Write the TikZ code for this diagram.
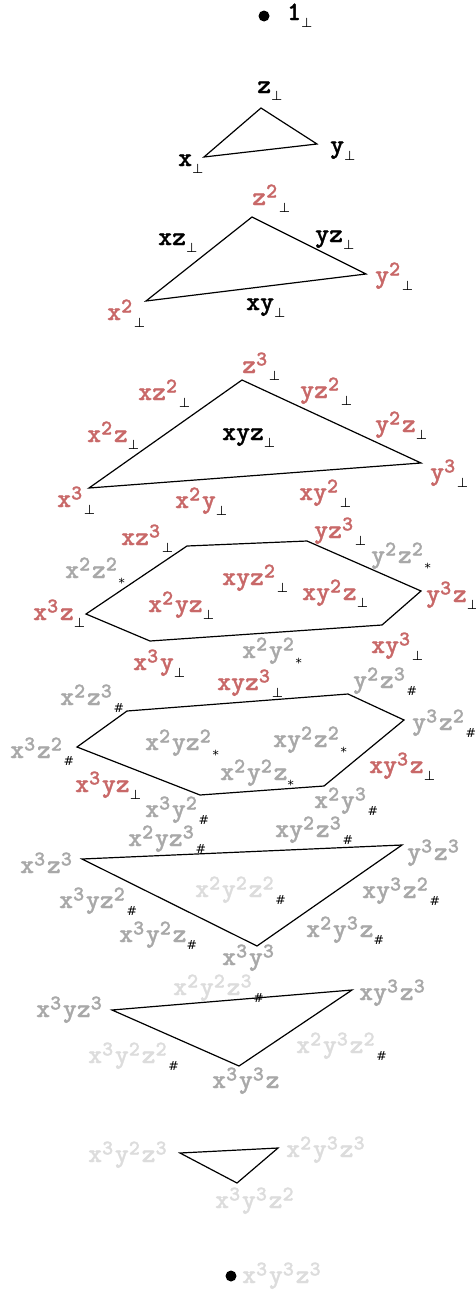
\documentclass[tikz,border=0pt]{standalone}
\usepackage{fontspec}
\newfontfamily\dvs{DejaVu Sans}
\newfontfamily\cour{lmmonolt10-bold.otf}[FakeBold=1.2]
\definecolor{rd}{RGB}{200,104,104}
\definecolor{gr}{RGB}{168,168,168}
\definecolor{lg}{RGB}{220,220,220}
\newcommand\pw[1]{\raisebox{7.5pt}{\fontsize{21}{21}\selectfont #1}\kern1.8pt}
\newcommand\bt{\textcolor{black}{\raisebox{-7pt}{\dvs\fontsize{13}{13}\selectfont ⊥}}}
\newcommand\hs{\textcolor{black}{\raisebox{-7pt}{\dvs\fontsize{12.5}{12.5}\selectfont \#}}}
\newcommand\st{\textcolor{black}{\raisebox{-9.5pt}{\dvs\fontsize{12.5}{12.5}\selectfont *}}}
\tikzset{
  lab/.style={inner sep=0pt, anchor=base west, font=\fontsize{26.5}{28}\selectfont\cour},
  kk/.style={lab,text=black},
  rr/.style={lab,text=rd},
  gg/.style={lab,text=gr},
  ll/.style={lab,text=lg},
  edge/.style={draw=black,line width=1.2pt},
  dot/.style={circle,fill=black,inner sep=0pt,minimum size=11pt}
}
\begin{document}
\begin{tikzpicture}[x=1pt,y=-1pt]
\useasboundingbox (0,0) rectangle (476,1293);
% dots
\node[dot] (top) at (264,16) {};
\node[dot] (bot) at (231,1276) {};
% polygon vertices
\coordinate (a1) at (261,108); \coordinate (a2) at (317,144); \coordinate (a3) at (204,157);
\coordinate (b1) at (252,217); \coordinate (b2) at (366,274); \coordinate (b3) at (146,301);
\coordinate (c1) at (242,380); \coordinate (c2) at (421,463); \coordinate (c3) at (89,488);
\coordinate (d1) at (187,546); \coordinate (d2) at (307,541); \coordinate (d3) at (421,591);
\coordinate (d4) at (382,625); \coordinate (d5) at (150,641); \coordinate (d6) at (86,614);
\coordinate (e1) at (127,711); \coordinate (e2) at (348,694); \coordinate (e3) at (404,720);
\coordinate (e4) at (324,786); \coordinate (e5) at (200,795); \coordinate (e6) at (77,747);
\coordinate (f1) at (82,859); \coordinate (f2) at (402,845); \coordinate (f3) at (257,946);
\coordinate (g1) at (112,1010); \coordinate (g2) at (352,990); \coordinate (g3) at (239,1066);
\coordinate (h1) at (180,1153); \coordinate (h2) at (278,1148); \coordinate (h3) at (237,1183);
\draw[edge] (a1) -- (a2) -- (a3) -- cycle;
\draw[edge] (b1) -- (b2) -- (b3) -- cycle;
\draw[edge] (c1) -- (c2) -- (c3) -- cycle;
\draw[edge] (d1) -- (d2) -- (d3) -- (d4) -- (d5) -- (d6) -- cycle;
\draw[edge] (e1) -- (e2) -- (e3) -- (e4) -- (e5) -- (e6) -- cycle;
\draw[edge] (f1) -- (f2) -- (f3) -- cycle;
\draw[edge] (g1) -- (g2) -- (g3) -- cycle;
\draw[edge] (h1) -- (h2) -- (h3) -- cycle;
% black labels
\node[kk] (L1) at (287,20) {1\bt};
\node[kk] (Lz) at (257,93) {z\bt};
\node[kk] (Ly) at (330,153) {y\bt};
\node[kk] (Lx) at (178,166) {x\bt};
\node[kk] (Lxz) at (158,245) {xz\bt};
\node[kk] (Lyz) at (315,242) {yz\bt};
\node[kk] (Lxy) at (246,310) {xy\bt};
\node[kk] (Lxyz) at (222,440) {xyz\bt};
% red labels
\node[rr] (r1) at (252,205) {z\pw2\bt};
\node[rr] (r2) at (375,283) {y\pw2\bt};
\node[rr] (r3) at (107,320) {x\pw2\bt};
\node[rr] (r4) at (242,373) {z\pw3\bt};
\node[rr] (r5) at (138,400) {xz\pw2\bt};
\node[rr] (r6) at (300,398) {yz\pw2\bt};
\node[rr] (r7) at (87,442) {x\pw2z\bt};
\node[rr] (r8) at (375,432) {y\pw2z\bt};
\node[rr] (r9) at (430,480) {y\pw3\bt};
\node[rr] (r10) at (57,507) {x\pw3\bt};
\node[rr] (r11) at (175,508) {x\pw2y\bt};
\node[rr] (r12) at (299,500) {xy\pw2\bt};
\node[rr] (r13) at (121,545) {xz\pw3\bt};
\node[rr] (r14) at (314,538) {yz\pw3\bt};
\node[rr] (r15) at (222,585) {xyz\pw2\bt};
\node[rr] (r16) at (302,600) {xy\pw2z\bt};
\node[rr] (r17) at (426,602) {y\pw3z\bt};
\node[rr] (r18) at (33,620) {x\pw3z\bt};
\node[rr] (r19) at (148,612) {x\pw2yz\bt};
\node[rr] (r20) at (133,670) {x\pw3y\bt};
\node[rr] (r21) at (371,653) {xy\pw3\bt};
\node[rr] (r22) at (217,690) {xyz\pw3\bt};
\node[rr] (r23) at (75,792) {x\pw3yz\bt};
\node[rr] (r24) at (369,773) {xy\pw3z\bt};
% grey labels
\node[gg] (g01) at (371,563) {y\pw2z\pw2\st};
\node[gg] (g02) at (65,578) {x\pw2z\pw2\st};
\node[gg] (g03) at (242,658) {x\pw2y\pw2\st};
\node[gg] (g04) at (353,688) {y\pw2z\pw3\hs};
\node[gg] (g05) at (60,705) {x\pw2z\pw3\hs};
\node[gg] (g06) at (412,730) {y\pw3z\pw2\hs};
\node[gg] (g07) at (10,758) {x\pw3z\pw2\hs};
\node[gg] (g08) at (145,750) {x\pw2yz\pw2\st};
\node[gg] (g09) at (273,747) {xy\pw2z\pw2\st};
\node[gg] (g10) at (220,780) {x\pw2y\pw2z\st};
\node[gg] (g11) at (314,808) {x\pw2y\pw3\hs};
\node[gg] (g12) at (145,817) {x\pw3y\pw2\hs};
\node[gg] (g13) at (275,837) {xy\pw2z\pw3\hs};
\node[gg] (g14) at (128,846) {x\pw2yz\pw3\hs};
\node[gg] (g15) at (20,873) {x\pw3z\pw3};
\node[gg] (g16) at (407,860) {y\pw3z\pw3};
\node[gg] (g17) at (59,908) {x\pw3yz\pw2\hs};
\node[gg] (g18) at (362,898) {xy\pw3z\pw2\hs};
\node[gg] (g19) at (119,942) {x\pw3y\pw2z\hs};
\node[gg] (g20) at (306,937) {x\pw2y\pw3z\hs};
\node[gg] (g21) at (222,965) {x\pw3y\pw3};
\node[gg] (g22) at (36,1017) {x\pw3yz\pw3};
\node[gg] (g23) at (359,1000) {xy\pw3z\pw3};
\node[gg] (g24) at (212,1088) {x\pw3y\pw3z};
% light grey labels
\node[ll] (l1) at (195,897) {x\pw2y\pw2z\pw2\hs};
\node[ll] (l2) at (173,995) {x\pw2y\pw2z\pw3\hs};
\node[ll] (l3) at (88,1063) {x\pw3y\pw2z\pw2\hs};
\node[ll] (l4) at (296,1053) {x\pw2y\pw3z\pw2\hs};
\node[ll] (l5) at (88,1162) {x\pw3y\pw2z\pw3};
\node[ll] (l6) at (286,1157) {x\pw2y\pw3z\pw3};
\node[ll] (l7) at (215,1208) {x\pw3y\pw3z\pw2};
\node[ll] (l8) at (242,1283) {x\pw3y\pw3z\pw3};
\end{tikzpicture}
\end{document}
